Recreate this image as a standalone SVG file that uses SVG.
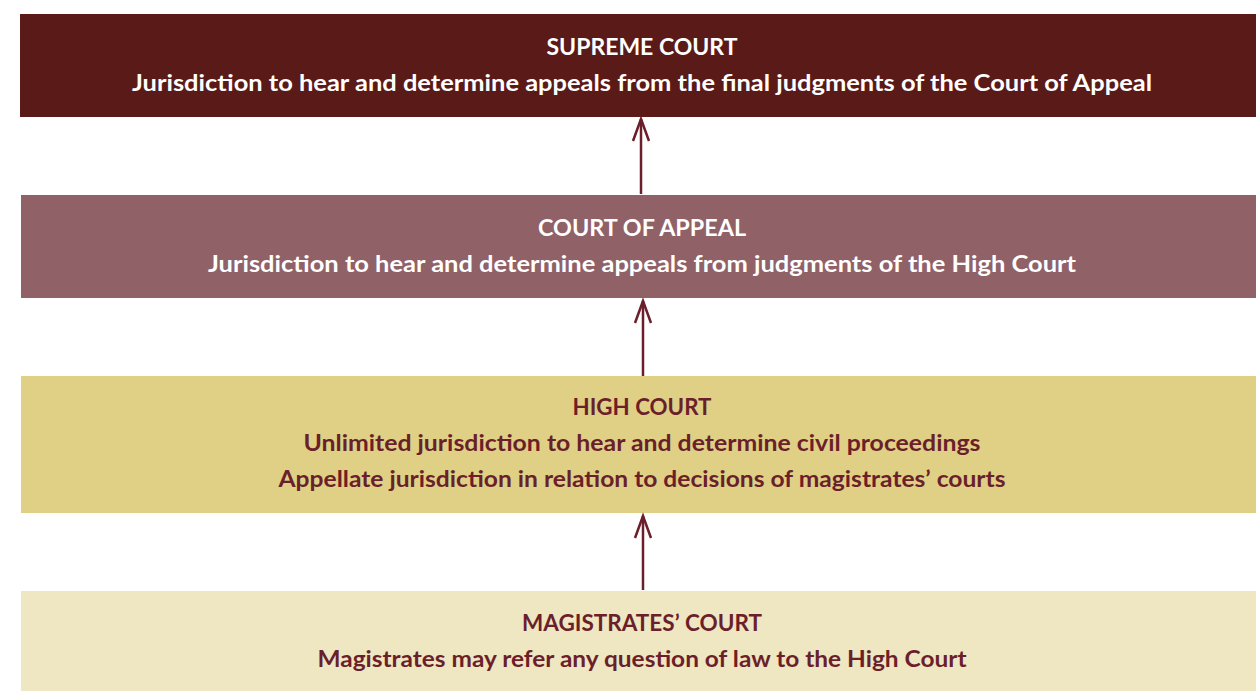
<svg xmlns="http://www.w3.org/2000/svg" width="1256" height="691" viewBox="0 0 1256 691">
<style>
  .t { font-family: Lato, "Open Sans", "Liberation Sans", sans-serif; font-weight: 700; font-size: 22px; text-anchor: middle; }
  .light { fill: #ffffff; }
  .dark { fill: #6b1f2a; }
  .conn { stroke: #6b1f2a; stroke-width: 2.5; fill: none; }
</style>
<defs>
  <marker id="head" viewBox="-26 -12 30 24" refX="0" refY="0" markerWidth="30" markerHeight="24" markerUnits="userSpaceOnUse" orient="auto">
    <path d="M-22,-8 L0,0 L-22,8" fill="none" stroke="#6b1f2a" stroke-width="2.5"/>
  </marker>
</defs>
<rect width="1256" height="691" fill="#ffffff"/>
<g id="supreme-court">
  <rect x="20" y="14" width="1236" height="103" fill="#5a1a17"/>
  <text class="t light" x="642" y="55" textLength="191" lengthAdjust="spacingAndGlyphs">SUPREME COURT</text>
  <text class="t light" x="642" y="91" textLength="1020" lengthAdjust="spacingAndGlyphs">Jurisdiction to hear and determine appeals from the final judgments of the Court of Appeal</text>
</g>
<g id="court-of-appeal">
  <rect x="21" y="195" width="1235" height="103" fill="#916168"/>
  <text class="t light" x="642" y="236" textLength="208" lengthAdjust="spacingAndGlyphs">COURT OF APPEAL</text>
  <text class="t light" x="642" y="272" textLength="868" lengthAdjust="spacingAndGlyphs">Jurisdiction to hear and determine appeals from judgments of the High Court</text>
</g>
<g id="high-court">
  <rect x="21" y="376" width="1235" height="137" fill="#dfd086"/>
  <text class="t dark" x="642" y="415" textLength="139" lengthAdjust="spacingAndGlyphs">HIGH COURT</text>
  <text class="t dark" x="642" y="451" textLength="677" lengthAdjust="spacingAndGlyphs">Unlimited jurisdiction to hear and determine civil proceedings</text>
  <text class="t dark" x="642" y="487" textLength="727" lengthAdjust="spacingAndGlyphs">Appellate jurisdiction in relation to decisions of magistrates’ courts</text>
</g>
<g id="magistrates-court">
  <rect x="21" y="591" width="1235" height="100" fill="#efe6c2"/>
  <text class="t dark" x="642" y="631" textLength="240" lengthAdjust="spacingAndGlyphs">MAGISTRATES’ COURT</text>
  <text class="t dark" x="642" y="667" textLength="649" lengthAdjust="spacingAndGlyphs">Magistrates may refer any question of law to the High Court</text>
</g>
<g id="connectors">
  <line class="conn" x1="641" y1="194" x2="641" y2="119" marker-end="url(#head)"/>
  <line class="conn" x1="643" y1="376" x2="643" y2="301" marker-end="url(#head)"/>
  <line class="conn" x1="643" y1="590" x2="643" y2="516" marker-end="url(#head)"/>
</g>
</svg>
